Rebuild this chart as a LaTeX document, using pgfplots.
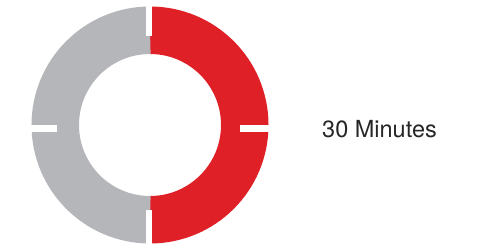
\documentclass[border=0pt]{standalone}
\usepackage{pgfplots}
\usepackage{pgfplotstable}
\pgfplotsset{compat=1.18}
\usepackage{fontspec}
\setmainfont{TeX Gyre Heros}
\definecolor{dred}{HTML}{DF2027}
\definecolor{dgray}{HTML}{B5B6BA}
\pgfplotstableread{
part value
done 30
left 30
}\donut
\begin{document}
\begin{tikzpicture}
\pgfplotstablegetelem{0}{value}\of\donut \let\vdone\pgfplotsretval
\pgfplotstablegetelem{1}{value}\of\donut \let\vleft\pgfplotsretval
\pgfmathsetmacro{\total}{\vdone+\vleft}
\pgfmathsetmacro{\enddone}{90-360*\vdone/\total}
\begin{axis}[
  x=1bp, y=1bp,
  xmin=-150, xmax=337, ymin=-123, ymax=125,
  hide axis, clip=false,
]
\path (axis cs:-150,-123) rectangle (axis cs:337,125);
% ring segments
\draw[dred, line width=47.5bp] (axis cs:0,94.75) arc[start angle=90, end angle=\enddone, radius=94.75bp];
\draw[dgray, line width=47.5bp] (axis cs:{94.75*cos(\enddone)},{94.75*sin(\enddone)}) arc[start angle=\enddone, end angle=-270, radius=94.75bp];
% white tick marks
\addplot[white, line width=6bp, forget plot] coordinates {(-1,122) (-1,89)};
\addplot[white, line width=6bp, forget plot] coordinates {(-1,-122) (-1,-85)};
\addplot[white, line width=7bp, forget plot] coordinates {(-122,-3) (-93,-3)};
\addplot[white, line width=7bp, forget plot] coordinates {(122,-3) (90,-3)};
\node[anchor=base west, inner sep=0pt, font=\fontsize{23.5bp}{28bp}\selectfont, text=black!85] at (axis cs:172,-12) {30 Minutes};
\end{axis}
\end{tikzpicture}
\end{document}
